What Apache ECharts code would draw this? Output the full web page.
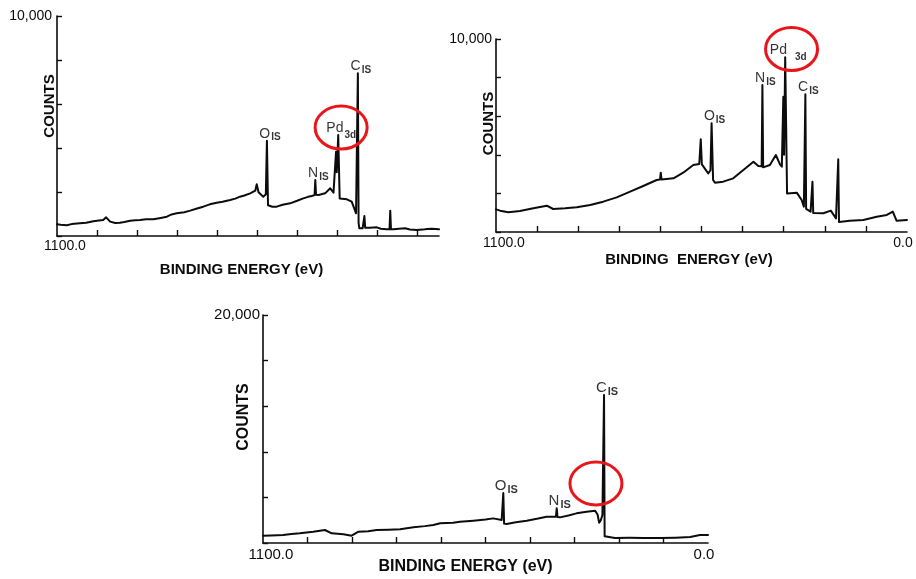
<!DOCTYPE html>
<html>
<head>
<meta charset="utf-8">
<script src="https://cdn.jsdelivr.net/npm/echarts@6/dist/echarts.min.js"></script>
<style>
  html, body { margin: 0; padding: 0; background: #fff; }
  #chart { width: 916px; height: 579px; }
</style>
</head>
<body>
<div id="chart"></div>
<script>
// XPS survey spectra: binding energy (eV) vs. counts, three scans.

// Scan A (recorded down to ~50 eV)
const spectrumA = [
  [1100, 530], [1090, 510], [1073, 485], [1060, 540], [1037, 575], [1020, 600],
  [1000, 667], [985, 700], [973, 727], [965, 848], [954, 652], [940, 590],
  [927, 606], [915, 640], [899, 697], [885, 720], [872, 727], [855, 760],
  [835, 758], [815, 820], [798, 879], [785, 980], [771, 1030], [750, 1080],
  [734, 1152], [715, 1250], [698, 1333], [680, 1440], [661, 1515], [645, 1560],
  [624, 1636], [610, 1700], [597, 1788], [585, 1840], [569, 1939], [555, 2061],
  [551, 2348], [546, 1990], [533, 1788], [526, 1900], [523, 4333], [520, 1400],
  [518, 1364], [508, 1330], [496, 1333], [480, 1420], [459, 1485], [440, 1600],
  [423, 1712], [410, 1780], [400, 1818], [392, 1860], [390, 2545], [388, 1880],
  [381, 1864], [363, 1939], [349, 2167], [340, 1970], [335, 2000], [333, 3833],
  [331, 2900], [327, 4591], [323, 1700], [322, 1636], [303, 1667], [290, 1561],
  [283, 1258], [278, 1030], [275, 1000], [273, 7394], [271, 600], [269, 348],
  [260, 348], [257, 360], [255, 909], [253, 379], [250, 379], [240, 380],
  [221, 394], [210, 330], [194, 303], [186, 310], [184, 1152], [182, 310],
  [175, 303], [160, 330], [143, 348], [130, 300], [111, 273], [95, 290],
  [83, 318], [70, 330], [50, 303]
];

// Scan B
const spectrumB = [
  [1100, 1174], [1089, 1105], [1067, 1019], [1036, 1088], [1000, 1226], [964, 1364],
  [947, 1192], [915, 1226], [884, 1278], [848, 1399], [813, 1572], [777, 1796],
  [741, 2089], [706, 2383], [670, 2694], [661, 2720], [659, 3074], [657, 2720],
  [652, 2729], [625, 2781], [599, 3074], [572, 3472], [556, 3523], [552, 4801],
  [549, 3500], [547, 3472], [532, 3040], [526, 3200], [523, 5630], [519, 2700],
  [514, 2556], [492, 2608], [465, 2781], [438, 3212], [411, 3644], [398, 3420],
  [389, 3400], [387, 7617], [385, 3350], [380, 3299], [367, 3472], [351, 3990],
  [340, 3500], [335, 3385], [331, 7012], [329, 4000], [326, 9050], [321, 2000],
  [318, 1917], [295, 2038], [282, 1658], [276, 1313], [274, 1300], [272, 7133],
  [270, 1200], [267, 1174], [258, 1054], [255, 1000], [253, 2608], [251, 980],
  [249, 968], [224, 968], [204, 1105], [190, 708], [186, 700], [184, 3765],
  [182, 520], [177, 484], [153, 588], [117, 622], [81, 795], [54, 881],
  [38, 1054], [28, 588], [0, 622]
];

// Scan C
const spectrumC = [
  [1100, 640], [1080, 660], [1050, 700], [1030, 790], [1009, 850], [976, 990],
  [947, 1140], [930, 850], [901, 760], [881, 640], [864, 990], [840, 1040],
  [819, 1140], [790, 1170], [761, 1200], [728, 1375], [700, 1480], [679, 1580],
  [662, 1725], [630, 1780], [613, 1870], [580, 1960], [550, 2060], [531, 2160],
  [510, 2018], [508, 2100], [506, 4386], [504, 1700], [498, 1667], [475, 1820],
  [448, 1960], [420, 2150], [399, 2310], [376, 2300], [374, 3040], [372, 2280],
  [366, 2250], [345, 2420], [325, 2600], [300, 2750], [279, 2830], [273, 2500],
  [269, 1780], [265, 2000], [261, 2460], [258, 2400], [257, 12982], [255.5, 600],
  [252, 439], [230, 439], [193, 450], [160, 439], [119, 439], [80, 470],
  [44, 526], [20, 700], [0, 700]
];

// Peak annotations: element, orbital, energy, counts (apex of each peak)
const peaksA = [['O', 'IS', 523, 4333], ['N', 'IS', 390, 2545], ['Pd', '3d', 327, 4591], ['C', 'IS', 273, 7394]];
const peaksB = [['O', 'IS', 523, 5630], ['N', 'IS', 387, 7617], ['Pd', '3d', 326, 9050], ['C', 'IS', 272, 7133]];
const peaksC = [['O', 'IS', 506, 4386], ['N', 'IS', 374, 3040], ['C', 'IS', 257, 12982]];

// Ring highlights around the Pd 3d region (energy, counts)
const highlightA = [319, 4930];
const highlightB = [309, 9480];
const highlightC = [277, 5220];

// Axis ticks and labels
const energyTicks = [990, 880, 770, 660, 550, 440, 330, 220, 110];
const energyLabelsA = [1100];
const energyLabelsFull = [1100, 0];
const countsMaxAB = 10000;
const countsMaxC = 20000;

const FONT = '"Liberation Sans", Arial, Helvetica, sans-serif';
const INK = '#0c0c0c';
const RED = '#e8161b';

const panels = [
  {
    spectrum: spectrumA, peaks: peaksA, ring: highlightA,
    xMin: 50, xLabels: energyLabelsA, yMax: countsMaxAB, yStep: 2000,
    grid: { left: 57, top: 16, width: 382, height: 220 },
    xName: 'BINDING ENERGY (eV)', fs: 14, nameFs: 15, peakFs: 14, pdGap: 0,
    xNameGap: 26, xNameShift: 13, yNameGap: 0, yNameShift: 40, xLabelMargin: 3, yLabelMargin: 5
  },
  {
    spectrum: spectrumB, peaks: peaksB, ring: highlightB,
    xMin: 0, xLabels: energyLabelsFull, yMax: countsMaxAB, yStep: 2000,
    grid: { left: 496, top: 39, width: 411, height: 193 },
    xName: 'BINDING  ENERGY (eV)', fs: 14, nameFs: 15, peakFs: 14, pdGap: 7,
    xNameGap: 20, xNameShift: 25, yNameGap: 0, yNameShift: 24, xLabelMargin: 4, yLabelMargin: 4
  },
  {
    spectrum: spectrumC, peaks: peaksC, ring: highlightC,
    xMin: 0, xLabels: energyLabelsFull, yMax: countsMaxC, yStep: 4000,
    grid: { left: 263, top: 315, width: 445, height: 228 },
    xName: 'BINDING ENERGY (eV)', fs: 15, nameFs: 16, peakFs: 15, pdGap: 0,
    xNameGap: 16, xNameShift: 40, yNameGap: 11, yNameShift: 24, xLabelMargin: 4, yLabelMargin: 3
  }
];

const withCommas = v => String(v).replace(/\B(?=(\d{3})+(?!\d))/g, ',');
const axisLine = { show: true, onZero: false, lineStyle: { color: INK, width: 1.6 } };

const grids = [], xAxes = [], yAxes = [], series = [];

panels.forEach((p, i) => {
  grids.push(Object.assign({ containLabel: false }, p.grid));

  xAxes.push({
    type: 'value', gridIndex: i, min: p.xMin, max: 1100, inverse: true,
    axisLine: axisLine,
    axisTick: { show: true, inside: true, length: 6, customValues: energyTicks, lineStyle: { color: INK, width: 1.4 } },
    axisLabel: {
      show: true, customValues: p.xLabels, margin: p.xLabelMargin,
      formatter: v => (v === 1100 ? '{a|' : '{b|') + v.toFixed(1) + '}',
      rich: {
        a: { fontFamily: FONT, fontSize: p.fs, color: INK, padding: [0, 0, 0, 16] },
        b: { fontFamily: FONT, fontSize: p.fs, color: INK, padding: [0, 8, 0, 0] }
      }
    },
    splitLine: { show: false },
    name: p.xName, nameLocation: 'middle', nameGap: p.xNameGap, nameMoveOverlap: false,
    nameTextStyle: { fontFamily: FONT, fontWeight: 'bold', fontSize: p.nameFs, color: INK, padding: [0, p.xNameShift, 0, 0] }
  });

  yAxes.push({
    type: 'value', gridIndex: i, min: 0, max: p.yMax, interval: p.yStep,
    axisLine: axisLine,
    axisTick: { show: true, inside: true, length: 5, lineStyle: { color: INK, width: 1.4 } },
    axisLabel: {
      show: true, margin: p.yLabelMargin,
      formatter: v => (v === p.yMax ? withCommas(v) : ''),
      fontFamily: FONT, fontSize: p.fs, color: INK
    },
    splitLine: { show: false },
    name: 'COUNTS', nameLocation: 'middle', nameRotate: 90, nameGap: p.yNameGap, nameMoveOverlap: false,
    nameTextStyle: { fontFamily: FONT, fontWeight: 'bold', fontSize: p.nameFs, color: INK, padding: [0, 0, 0, p.yNameShift] }
  });

  series.push({
    type: 'line', xAxisIndex: i, yAxisIndex: i, data: p.spectrum,
    symbol: 'none', silent: true, clip: false,
    lineStyle: { color: INK, width: 2, join: 'round', cap: 'round' }
  });

  const fs = p.peakFs, sfs = fs - 4;
  series.push({
    type: 'scatter', xAxisIndex: i, yAxisIndex: i, symbolSize: 0, silent: true,
    data: p.peaks.map(k => ({ value: [k[2], k[3]], main: k[0], sub: k[1] })),
    label: {
      show: true, position: 'top', distance: -2, offset: [3, 0],
      formatter: prm => '{m|' + prm.data.main + '}' + (prm.data.main === 'Pd' ? '{d|' : '{s|') + prm.data.sub + '}',
      rich: {
        m: { fontFamily: FONT, fontSize: fs, color: '#000', lineHeight: fs + 2, verticalAlign: 'top' },
        s: { fontFamily: FONT, fontSize: sfs, fontWeight: 'bold', color: '#000', lineHeight: sfs, verticalAlign: 'top', padding: [6, 0, 0, 1] },
        d: { fontFamily: FONT, fontSize: sfs, fontWeight: 'bold', color: '#000', lineHeight: sfs, verticalAlign: 'top', padding: [9, 0, 0, 1 + p.pdGap] }
      }
    }
  });
});

const chart = echarts.init(document.getElementById('chart'), null, { renderer: 'canvas' });
chart.setOption({
  animation: false,
  backgroundColor: '#fff',
  grid: grids, xAxis: xAxes, yAxis: yAxes, series: series
});

// Red rings drawn around the Pd 3d region, anchored to data coordinates
const rings = panels.map((p, i) => {
  const c = chart.convertToPixel({ gridIndex: i }, p.ring);
  return {
    type: 'ellipse', z: 100, silent: true,
    shape: { cx: c[0], cy: c[1], rx: 26, ry: 21.5 },
    style: { fill: 'none', stroke: RED, lineWidth: 3 }
  };
});
chart.setOption({ graphic: rings });
</script>
</body>
</html>
